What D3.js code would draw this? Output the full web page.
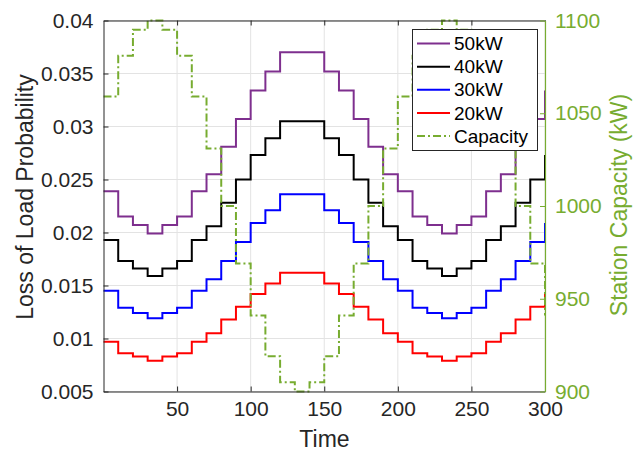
<!DOCTYPE html>
<html>
<head>
<meta charset="utf-8">
<script src="https://cdn.jsdelivr.net/npm/d3@7"></script>
<style>
  html, body { margin: 0; padding: 0; background: #fff; }
  svg { display: block; font-family: "Liberation Sans", Arial, Helvetica, sans-serif; }
</style>
</head>
<body>
<svg id="chart" width="633" height="452"></svg>
<script>
// Start time of each 10-step interval (the last entry opens the interval beyond the axis)
const stepStarts = [0,10,20,30,40,50,60,70,80,90,100,110,120,130,140,150,160,170,180,190,200,210,220,230,240,250,260,270,280,290,300];

// Station capacity (kW) held over each interval
const capacity = [1059,1081,1095,1100,1095,1081,1059,1031,1000,969,941,919,905,900,905,919,941,969,1000,1031,1059,1081,1095,1100,1095,1081,1059,1031,1000,969,941];

// Loss of load probability per interval, one array per charger rating
const lolp50 = [0.0239,0.0215,0.0207,0.0199,0.0207,0.0215,0.0239,0.0255,0.0281,0.0307,0.0334,0.0352,0.0370,0.0370,0.0370,0.0352,0.0334,0.0307,0.0281,0.0255,0.0239,0.0215,0.0207,0.0199,0.0207,0.0215,0.0239,0.0255,0.0281,0.0307,0.0334];
const lolp40 = [0.0193,0.0173,0.0166,0.0159,0.0166,0.0173,0.0193,0.0206,0.0228,0.0250,0.0273,0.0289,0.0305,0.0305,0.0305,0.0289,0.0273,0.0250,0.0228,0.0206,0.0193,0.0173,0.0166,0.0159,0.0166,0.0173,0.0193,0.0206,0.0228,0.0250,0.0273];
const lolp30 = [0.0145,0.0129,0.0124,0.0119,0.0124,0.0129,0.0145,0.0156,0.0173,0.0191,0.0209,0.0221,0.0236,0.0236,0.0236,0.0221,0.0209,0.0191,0.0173,0.0156,0.0145,0.0129,0.0124,0.0119,0.0124,0.0129,0.0145,0.0156,0.0173,0.0191,0.0209];
const lolp20 = [0.0097,0.0086,0.0083,0.0079,0.0083,0.0086,0.0097,0.0105,0.0118,0.0130,0.0142,0.0152,0.0162,0.0162,0.0162,0.0152,0.0142,0.0130,0.0118,0.0105,0.0097,0.0086,0.0083,0.0079,0.0083,0.0086,0.0097,0.0105,0.0118,0.0130,0.0142];

const seriesNames = ["50kW", "40kW", "30kW", "20kW"];
const seriesColors = ["#7E2F8E", "#000000", "#0000FF", "#FF0000"];
const seriesValues = [lolp50, lolp40, lolp30, lolp20];

const xTicks = [50, 100, 150, 200, 250, 300];
const leftTicks = [0.005, 0.01, 0.015, 0.02, 0.025, 0.03, 0.035, 0.04];
const rightTicks = [900, 950, 1000, 1050, 1100];

const axisColor = "#262626";
const capColor = "#77AC30";
const gridColor = "#e3e3e3";

const L = 103.5, R = 545, T = 20.5, B = 391.5;
const svg = d3.select("#chart");

const x = d3.scaleLinear().domain([0, 300]).range([L, R]);
const yL = d3.scaleLinear().domain([0.005, 0.04]).range([B, T]);
const yR = d3.scaleLinear().domain([900, 1100]).range([B, T]);

// grid
const grid = svg.append("g");
grid.selectAll("line.gx").data(xTicks).join("line")
  .attr("x1", d => x(d)).attr("x2", d => x(d)).attr("y1", T).attr("y2", B)
  .attr("stroke", gridColor).attr("stroke-width", 1);
grid.selectAll("line.gy").data(leftTicks).join("line")
  .attr("x1", L).attr("x2", R).attr("y1", d => yL(d)).attr("y2", d => yL(d))
  .attr("stroke", gridColor).attr("stroke-width", 1);

// clip
svg.append("clipPath").attr("id", "plotclip").append("rect")
  .attr("x", L - 1).attr("y", T - 2).attr("width", R - L + 2).attr("height", B - T + 4);

const plot = svg.append("g").attr("clip-path", "url(#plotclip)");

const stepLine = (yScale) => d3.line()
  .x(d => x(d[0])).y(d => yScale(d[1])).curve(d3.curveStepAfter);

seriesValues.forEach((vals, i) => {
  plot.append("path")
    .datum(stepStarts.map((t, k) => [t, vals[k]]))
    .attr("d", stepLine(yL))
    .attr("fill", "none")
    .attr("stroke", seriesColors[i])
    .attr("stroke-width", 2)
    .attr("stroke-linejoin", "miter");
});

plot.append("path")
  .datum(stepStarts.map((t, k) => [t, capacity[k]]))
  .attr("d", stepLine(yR))
  .attr("fill", "none")
  .attr("stroke", capColor)
  .attr("stroke-width", 2)
  .attr("stroke-dasharray", "8,3,2,3");

// axes
const bottomAxis = d3.axisBottom(x).tickValues(xTicks).tickSizeInner(-5).tickSizeOuter(0).tickPadding(10).tickFormat(d3.format("d"));
const gb = svg.append("g").attr("transform", `translate(0,${B})`).call(bottomAxis);
const topAxis = d3.axisTop(x).tickValues(xTicks).tickSizeInner(-5).tickSizeOuter(0).tickFormat("");
const gt = svg.append("g").attr("transform", `translate(0,${T})`).call(topAxis);
const leftAxis = d3.axisLeft(yL).tickValues(leftTicks).tickSizeInner(-5).tickSizeOuter(0).tickPadding(10).tickFormat(d => String(+d.toFixed(3)));
const gl = svg.append("g").attr("transform", `translate(${L},0)`).call(leftAxis);
const rightAxis = d3.axisRight(yR).tickValues(rightTicks).tickSizeInner(-5).tickSizeOuter(0).tickPadding(10).tickFormat(d3.format("d"));
const gr = svg.append("g").attr("transform", `translate(${R},0)`).call(rightAxis);

[gb, gt, gl].forEach(g => {
  g.select(".domain").attr("stroke", axisColor).attr("stroke-width", 1);
  g.selectAll(".tick line").attr("stroke", axisColor);
  g.selectAll(".tick text").attr("fill", axisColor).attr("font-size", 21).attr("font-family", "Liberation Sans, Arial, sans-serif");
});
gr.select(".domain").attr("stroke", capColor).attr("stroke-width", 1.2);
gr.selectAll(".tick line").attr("stroke", capColor);
gr.selectAll(".tick text").attr("fill", capColor).attr("font-size", 21).attr("font-family", "Liberation Sans, Arial, sans-serif");
gb.selectAll(".tick text").attr("dy", "0.71em");

// axis titles
svg.append("text").attr("x", 324.5).attr("y", 447).attr("text-anchor", "middle")
  .attr("font-size", 23).attr("fill", axisColor).text("Time");
svg.append("text").attr("transform", "translate(33,197) rotate(-90)").attr("text-anchor", "middle")
  .attr("font-size", 23).attr("fill", axisColor).text("Loss of Load Probability");
svg.append("text").attr("transform", "translate(627,205) rotate(-90)").attr("text-anchor", "middle")
  .attr("font-size", 23).attr("fill", capColor).text("Station Capacity (kW)");

// legend
const legend = svg.append("g");
legend.append("rect").attr("x", 412.5).attr("y", 29.5).attr("width", 125).attr("height", 121)
  .attr("fill", "#fff").attr("stroke", axisColor).attr("stroke-width", 1);
const legendItems = seriesNames.map((n, i) => ({ name: n, color: seriesColors[i], dash: null }))
  .concat([{ name: "Capacity", color: capColor, dash: "8,3,2,3" }]);
const rowY = d3.scaleLinear().domain([0, 4]).range([43.5, 136]);
legendItems.forEach((it, i) => {
  const yy = rowY(i);
  legend.append("line").attr("x1", 417).attr("x2", 450).attr("y1", yy).attr("y2", yy)
    .attr("stroke", it.color).attr("stroke-width", 2).attr("stroke-dasharray", it.dash);
  legend.append("text").attr("x", 454).attr("y", yy).attr("dy", "0.35em")
    .attr("font-size", 19).attr("fill", "#000").text(it.name);
});
</script>
</body>
</html>
